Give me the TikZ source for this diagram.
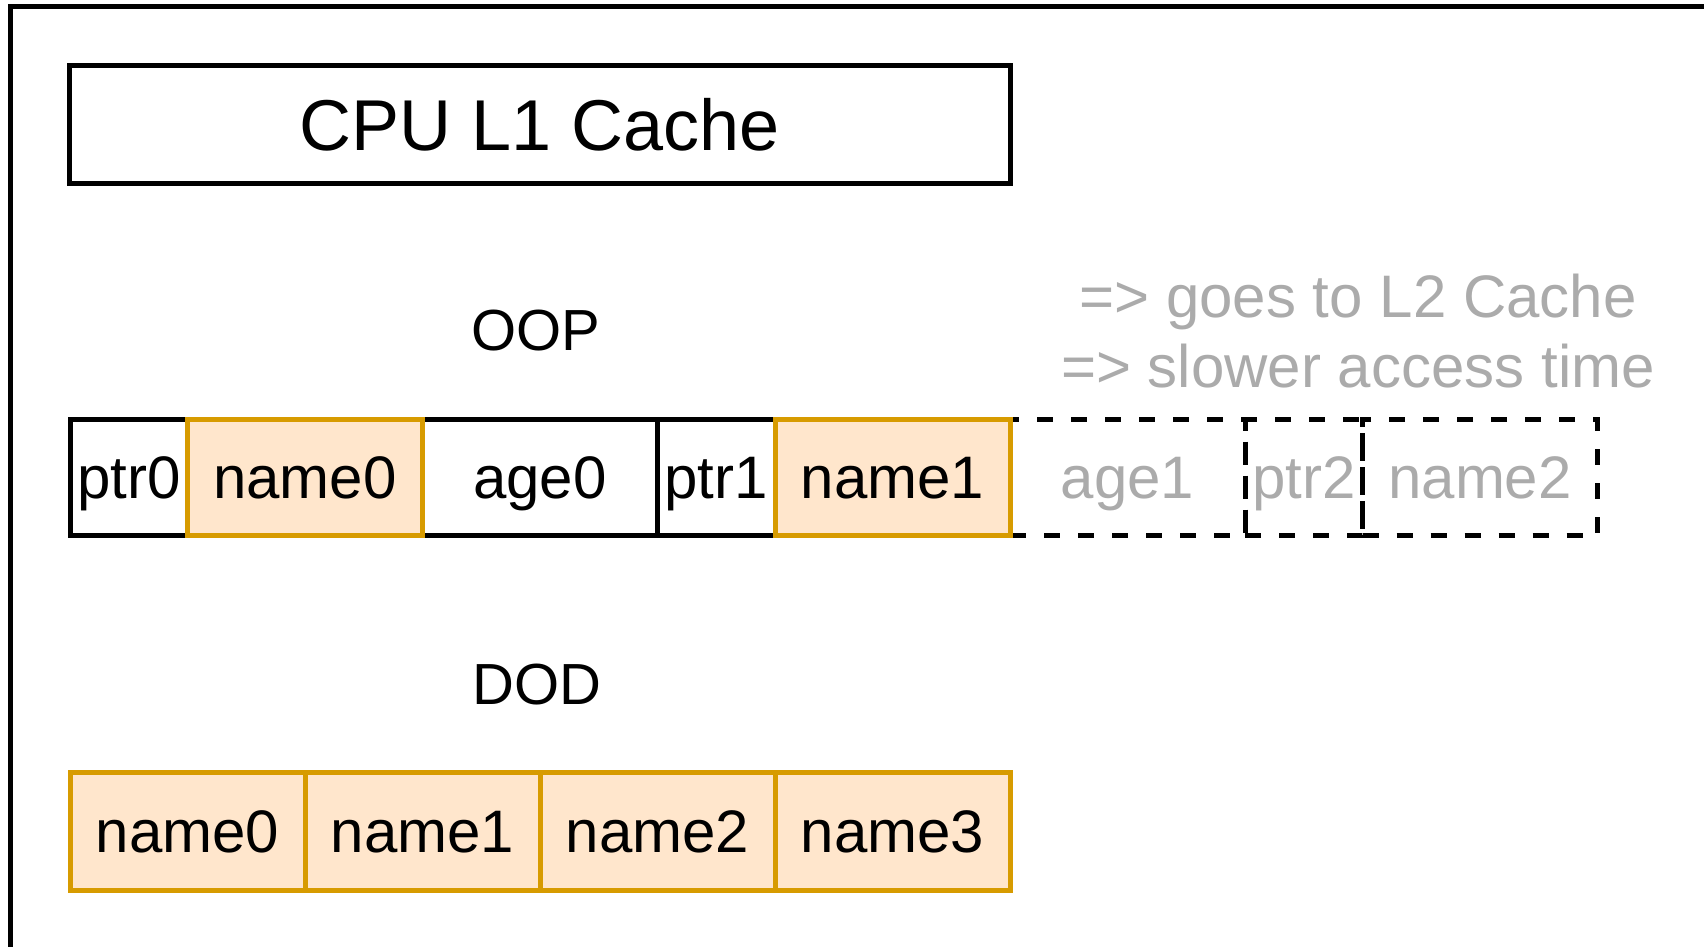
\documentclass[tikz,border=0pt]{standalone}
\usepackage{fontspec}
\setmainfont{Liberation Sans}
\definecolor{orangeline}{HTML}{D79B00}
\definecolor{orangefill}{HTML}{FFE6CC}
\definecolor{fadedtext}{HTML}{ABABAB}
\begin{document}
\begin{tikzpicture}[x=1pt,y=-1pt,
  cell/.style={rectangle, inner sep=0pt, line width=5pt,
    font=\fontsize{60}{72}\selectfont, text height=43pt, text depth=0pt},
  plain/.style={cell, draw=black, fill=white},
  hot/.style={cell, draw=orangeline, fill=orangefill},
  spill/.style={cell, draw=black, dash pattern=on 16pt off 18pt, text=fadedtext},
  oop/.style={minimum height=116.5pt},
  dod/.style={minimum height=117.5pt},
  narrow/.style={minimum width=117.5pt},
  wide/.style={minimum width=235pt},
  heading/.style={font=\fontsize{58}{70}\selectfont, anchor=base, inner sep=0pt},
  note/.style={font=\fontsize{60}{72}\selectfont, anchor=base, inner sep=0pt, text=fadedtext},
]
\useasboundingbox (0,0) rectangle (1704,946);
\clip (0,0) rectangle (1704,946);

% outer frame, running off the right and bottom edges
\draw[line width=5pt, line join=miter] (10.5,980) -- (10.5,6.5) -- (1740,6.5);

% cache box
\node[cell, draw=black, minimum width=940.5pt, minimum height=118pt,
  font=\fontsize{72}{86}\selectfont, text height=52pt] (cache) at (539.75,124.5) {CPU L1 Cache};

% OOP layout: fields that spill over the cache line
\node[spill, oop, wide]   (age1)  at (1127.5,477.25) {age1};
\node[spill, oop, narrow] (ptr2)  at (1303.75,477.25) {ptr2};
\node[spill, oop, wide]   (name2) at (1480,477.25) {name2};

% OOP layout: fields inside the cache line
\node[plain, oop, narrow] (ptr0)  at (128.75,477.25) {ptr0};
\node[plain, oop, wide]   (age0)  at (540,477.25) {age0};
\node[plain, oop, narrow] (ptr1)  at (716.25,477.25) {ptr1};
\node[hot, oop, wide]     (name0) at (305,477.25) {name0};
\node[hot, oop, wide]     (name1) at (892.5,477.25) {name1};

% DOD layout
\node[hot, dod, wide] (dname0) at (187.5,831.25) {name0};
\node[hot, dod, wide] (dname1) at (422.5,831.25) {name1};
\node[hot, dod, wide] (dname2) at (657.5,831.25) {name2};
\node[hot, dod, wide] (dname3) at (892.5,831.25) {name3};

% labels
\node[heading] (ooplabel) at (536,350) {OOP};
\node[heading] (dodlabel) at (537,704) {DOD};
\node[note] (note1) at (1358,317) {=> goes to L2 Cache};
\node[note] (note2) at (1358,387) {=> slower access time};
\end{tikzpicture}
\end{document}
